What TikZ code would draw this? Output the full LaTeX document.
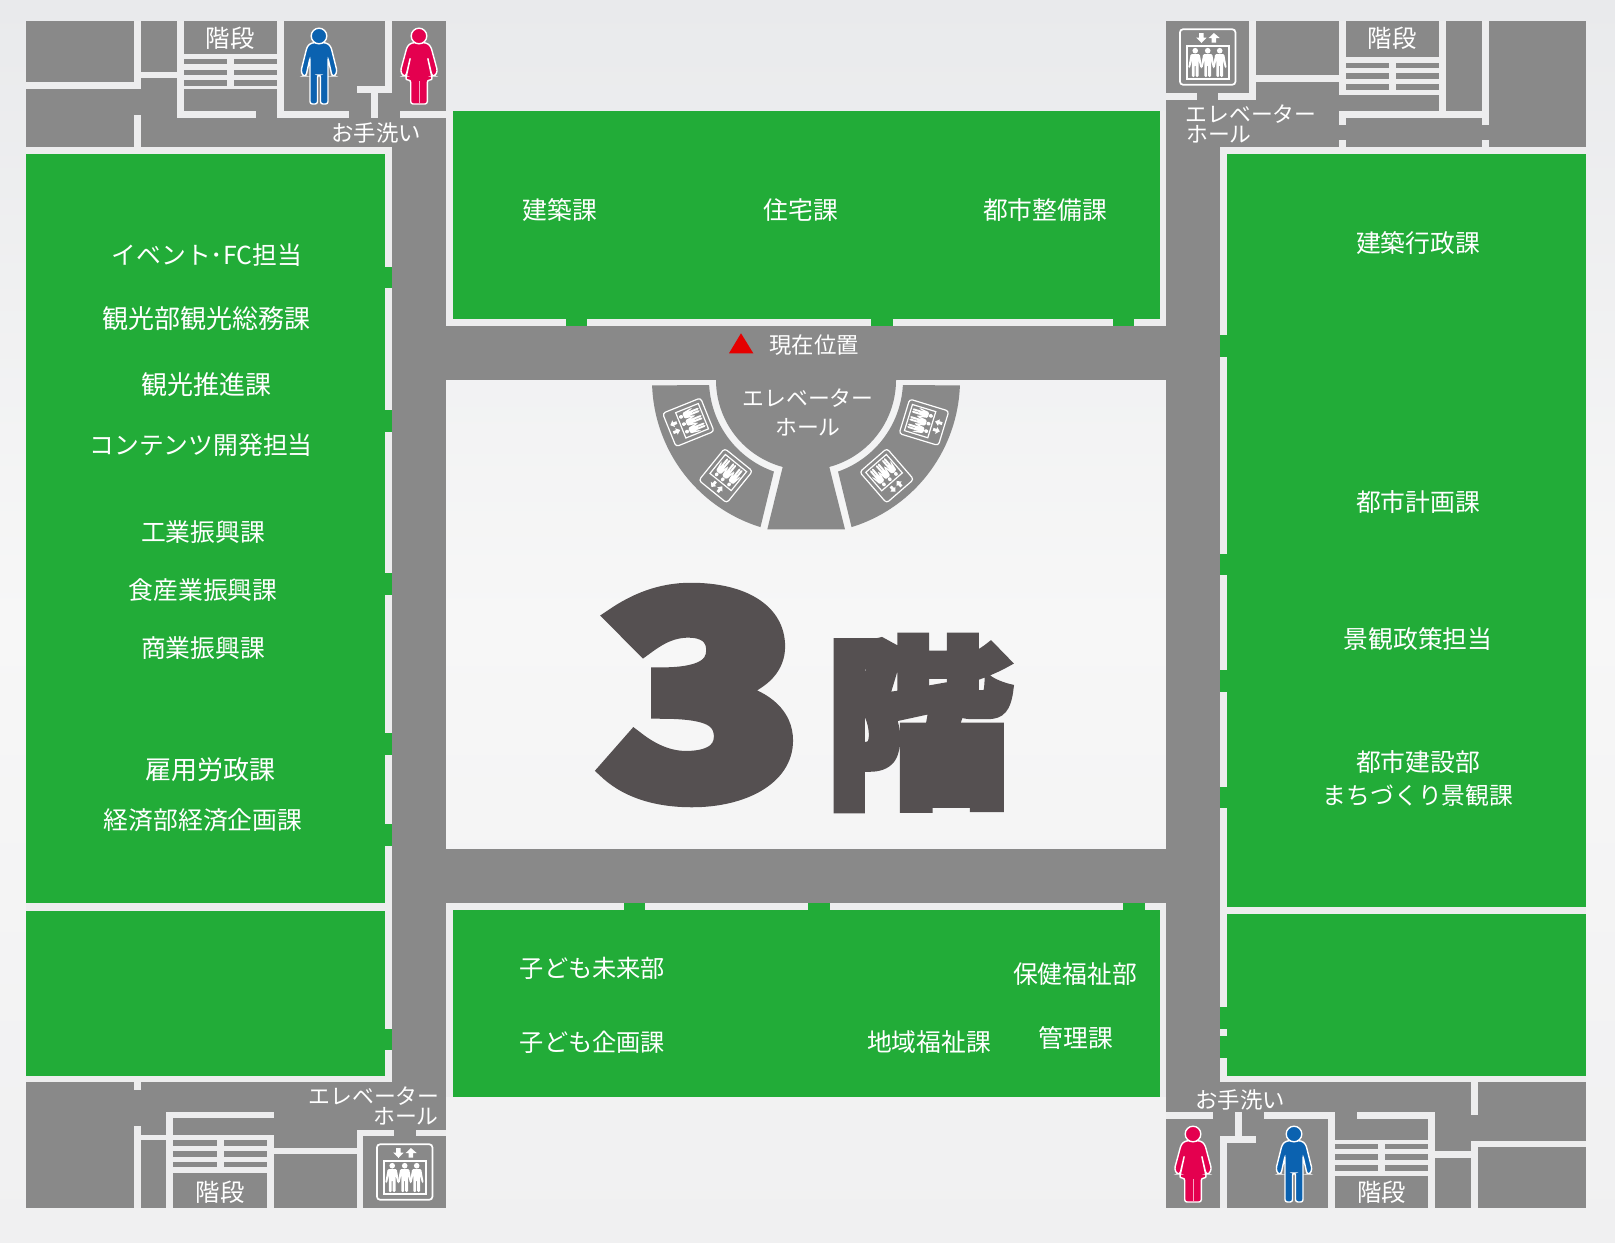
\documentclass[tikz,border=0pt]{standalone}
\usepackage{fontspec}
\usepackage{graphicx}
\setmainfont{Noto Sans CJK JP}
\newfontfamily\heavyf[BoldFeatures={FakeBold=4}]{Noto Sans CJK JP}
\newfontfamily\heavierf[BoldFeatures={FakeBold=6}]{Noto Sans CJK JP}
\definecolor{floorgray}{HTML}{898989}
\definecolor{wallc}{HTML}{EDEDEE}
\definecolor{roomg}{HTML}{22AC38}
\definecolor{malec}{HTML}{0B62B0}
\definecolor{femalec}{HTML}{E4004F}
\definecolor{bigc}{HTML}{555051}
\definecolor{bgtop}{HTML}{E9EAEC}
\definecolor{bgmid}{HTML}{F7F7F7}
\definecolor{bgbot}{HTML}{F0F0F1}
\tikzset{
  floor/.style={fill=floorgray},
  wall/.style={fill=wallc},
  room/.style={fill=roomg},
  lab/.style={text=white,inner sep=0pt,anchor=center},
  roomlab/.style={lab,font=\fontsize{12.4}{14}\selectfont},
  widelab/.style={lab,font=\fontsize{13}{14}\selectfont},
  narrowlab/.style={lab,font=\fontsize{12.1}{14}\selectfont},
  smalllab/.style={lab,font=\fontsize{11.2}{12}\selectfont},
  elevlab/.style={lab,font=\fontsize{10.9}{12}\selectfont},
}
\newcommand\maleicon[2]{%
  \begin{scope}[shift={(#1,#2)}]
    \fill[malec,draw=white,line width=0.7pt,rounded corners=1.2pt]
      (-4,6.5)--(-9,7.5)--(-12,11)--(-18,35)--(-16,40)--(-13,40)--(-9,22)--(-9,68)--(-1.5,68)--(-1.5,39)--(1.5,39)--(1.5,68)--(9,68)--(9,22)--(13,40)--(16,40)--(18,35)--(12,11)--(9,7.5)--(4,6.5)--cycle;
    \fill[malec,draw=white,line width=0.7pt] (0,0) circle[radius=7.8];
  \end{scope}}
\newcommand\femaleicon[2]{%
  \begin{scope}[shift={(#1,#2)}]
    \fill[femalec,draw=white,line width=0.7pt,rounded corners=1.2pt]
      (-4,6.5)--(-9,7.5)--(-12,11)--(-18.5,35)--(-16,40)--(-13,40)--(-8.5,21)--(-13.5,44)--(-8.3,44)--(-8.3,68)--(8.3,68)--(8.3,44)--(13.5,44)--(8.5,21)--(13,40)--(16,40)--(18.5,35)--(12,11)--(9,7.5)--(4,6.5)--cycle;
    \draw[white!65!femalec,line width=0.5pt] (0,45)--(0,67);
    \fill[femalec,draw=white,line width=0.7pt] (0,0) circle[radius=7.8];
  \end{scope}}
\newcommand\oneperson[1]{%
  \fill[white] (#1,-6.3) circle[radius=2.8];
  \fill[white,rounded corners=0.6pt] (#1-4.5,-3)--(#1+4.5,-3)--(#1+7,11)--(#1+5.2,11)--(#1+3.4,3)--(#1+3.4,20)--(#1+0.5,20)--(#1+0.5,8)--(#1-0.5,8)--(#1-0.5,20)--(#1-3.4,20)--(#1-3.4,3)--(#1-5.2,11)--(#1-7,11)--cycle;}
\newcommand\elevicon[6]{%
  \begin{scope}[shift={(#1,#2)},rotate=#3,xscale=#4,yscale=#5]
    \draw[white,line width=#6,rounded corners=1.5pt] (-27.7,-27.7) rectangle (27.7,27.7);
    \draw[white,line width=#6] (-21,-11) rectangle (21,22);
    \fill[white] (-8.5,-24)--(-4,-24)--(-4,-19.5)--(-1,-19.5)--(-6.2,-14)--(-11.5,-19.5)--(-8.5,-19.5)--cycle;
    \fill[white] (4,-14.5)--(8.5,-14.5)--(8.5,-19)--(12,-19)--(6.2,-24)--(1,-19)--(4,-19)--cycle;
    \oneperson{-12.5}\oneperson{0}\oneperson{12}
  \end{scope}}
\begin{document}
\begin{tikzpicture}[x=0.5pt,y=-0.5pt]
\useasboundingbox (0,0) rectangle (1615,1242);
\shade[top color=bgtop,bottom color=bgbot,middle color=bgmid] (0,0) rectangle (1615,1242);
% floor blocks and corridors
\foreach \a/\b/\c/\d in {26/21/446/147, 1166/21/1586/147, 26/1082/446/1208, 1166/1082/1586/1208,
   392/147/446/1082, 1166/147/1220/1082, 446/326/1166/380, 446/849/1166/903}
  \fill[floor] (\a,\b) rectangle (\c,\d);
% rooms
\foreach \a/\b/\c/\d in {26/154/385/903, 26/911/385/1076, 453/111/1160/319, 453/910/1160/1097,
   1227/154/1586/907, 1227/914/1586/1076}
  \fill[room] (\a,\b) rectangle (\c,\d);
% walls
\foreach \a/\b/\c/\d in {
  26/147/392/154, 385/147/392/1082, 26/1076/392/1082, 26/903/385/911,
  446/319/1166/326, 1160/111/1166/326, 446/111/453/326, 446/903/1166/910, 446/903/453/1097, 1160/903/1166/1097,
  1220/147/1586/154, 1220/147/1227/1082, 1220/1076/1586/1082, 1227/907/1586/914,
  134/21/141/89, 26/82/141/89, 141/72/177/78, 177/21/184/118, 177/111/256/118, 184/53.5/277/89, 277/21/284/118, 277/111/349/118,
  385/21/392/92.5, 357/86/392/92.5, 371/92/378/118, 399.5/111/446/118, 134/115/141/147,
  1249/21/1256/100, 1166/93/1196.7/100, 1218/93/1256/100, 1256/75/1339/82, 1339/21/1346/95, 1346/57/1439/95,
  1439/21/1446/118, 1339/111/1489/118, 1482/21/1489/125, 1482/140/1489/147, 1339/111/1346/125, 1339/140/1346/147,
  134/1082/141/1090, 134/1126/141/1208, 141/1135/166/1140, 166/1111.5/173/1208, 166/1111.5/274/1118, 166/1134.5/274/1172.5,
  267/1134.5/274/1208, 274/1148/357/1154, 357/1129.5/363/1208, 357/1129.5/394/1136, 415.5/1129.5/446/1136,
  1166/1111.7/1213/1118.5, 1263.5/1111.7/1335/1118.5, 1328/1111.7/1335/1208, 1220/1136/1227/1208, 1220/1136/1256/1143, 1235/1111.7/1242/1136,
  1357/1111.7/1435/1118.5, 1428/1111.7/1435/1208, 1335/1140/1428/1176, 1435/1151/1471/1158, 1471/1140.5/1478/1208, 1471/1140.5/1586/1147, 1471/1082/1478/1114.5}
  \fill[wall] (\a,\b) rectangle (\c,\d);
% stair treads
\foreach \a/\b/\c/\d in {
  184/59/227/64.3, 234/59/277/64.3, 184/69.5/227/75, 234/69.5/277/75, 184/80/227/86, 234/80/277/86,
  1346/62.5/1389/68, 1396/62.5/1439/68, 1346/73/1389/79, 1396/73/1439/79, 1346/84/1389/89.5, 1396/84/1439/89.5,
  173/1140/217/1145.5, 223.5/1140/267/1145.5, 173/1151/217/1156.5, 223.5/1151/267/1156.5, 173/1161.5/217/1167, 223.5/1161.5/267/1167,
  1335/1143.5/1378/1149, 1385/1143.5/1428/1149, 1335/1154/1378/1160, 1385/1154/1428/1160, 1335/1165/1378/1170.5, 1385/1165/1428/1170.5}
  \fill[floor] (\a,\b) rectangle (\c,\d);
% doors
\foreach \a/\b/\c/\d in {
  385/267/392/288, 385/410/392/432, 385/573/392/595, 385/733/392/755, 385/824/392/846, 385/1029/392/1050,
  1220/335/1227/357, 1220/554/1227/575, 1220/670/1227/692, 1220/787/1227/808, 1220/1007/1227/1029, 1220/1036/1227/1058,
  566/319/587/326, 871/319/893/326, 1113/319/1134/326,
  624/903/645/910, 808/903/830/910, 1123/903/1145/910}
  \fill[room] (\a,\b) rectangle (\c,\d);
% round elevator hall
\fill[floor] plot[domain=180:105,samples=50] ({806+90*cos(\x)},{380+90*sin(\x)}) -- (767.3,529.3) -- (845,529.3) -- plot[domain=75:0,samples=50] ({806+90*cos(\x)},{380+90*sin(\x)}) -- cycle;
\fill[floor] plot[domain=178:107.2,samples=50] ({806+154*cos(\x)},{380+154*sin(\x)}) -- plot[domain=109.3:177,samples=50] ({806+97*cos(\x)},{380+97*sin(\x)}) -- cycle;
\fill[floor] plot[domain=2:72.8,samples=50] ({806+154*cos(\x)},{380+154*sin(\x)}) -- plot[domain=70.7:3,samples=50] ({806+97*cos(\x)},{380+97*sin(\x)}) -- cycle;
% icons
\maleicon{319}{36}
\femaleicon{419}{36}
\femaleicon{1193}{1134}
\maleicon{1294}{1134}
\elevicon{1207.7}{57}{0}{1}{1}{0.85pt}
\elevicon{404.7}{1172}{0}{1}{1}{0.85pt}
\elevicon{688.3}{422.3}{112}{0.65}{0.74}{0.6pt}
\elevicon{725.7}{475.7}{141}{0.65}{0.74}{0.6pt}
\elevicon{924}{422.3}{-107}{0.65}{0.74}{0.6pt}
\elevicon{886.7}{475.7}{-139}{0.65}{0.74}{0.6pt}
% current position marker
\fill[red!90!black] (741,333.3)--(753.3,353.3)--(729,353.3)--cycle;
% big floor label
\node[text=bigc,inner sep=0pt,anchor=center] (floornum) at (700.5,695) {\resizebox{100.7pt}{102pt}{\heavierf\bfseries 3}};
\node[text=bigc,inner sep=0pt,anchor=center] (floorkai) at (918.5,723) {\resizebox{94pt}{77.7pt}{\heavyf\bfseries 階}};
% room labels
\node[roomlab] (t1) at (560,210) {建築課};
\node[roomlab] (t2) at (801,210) {住宅課};
\node[roomlab] (t3) at (1045,210) {都市整備課};
\node[roomlab] (l1) at (207,255) {イベント･FC担当};
\node[widelab] (l2) at (206,319) {観光部観光総務課};
\node[widelab] (l3) at (206,385) {観光推進課};
\node[roomlab] (l4) at (201,445) {コンテンツ開発担当};
\node[roomlab] (l5) at (203,532) {工業振興課};
\node[roomlab] (l6) at (203,590) {食産業振興課};
\node[roomlab] (l7) at (203,648) {商業振興課};
\node[widelab] (l8) at (210.5,770) {雇用労政課};
\node[roomlab] (l9) at (203,820) {経済部経済企画課};
\node[roomlab] (r1) at (1418,243) {建築行政課};
\node[roomlab] (r2) at (1418,502) {都市計画課};
\node[roomlab] (r3) at (1418,639) {景観政策担当};
\node[roomlab] (r4) at (1418,762) {都市建設部};
\node[lab,font=\fontsize{11.9}{14}\selectfont] (r5) at (1418,795) {まちづくり景観課};
\node[narrowlab] (b1) at (592.5,968) {子ども未来部};
\node[narrowlab] (b2) at (592.5,1042) {子ども企画課};
\node[roomlab] (b3) at (929,1042) {地域福祉課};
\node[roomlab] (b4) at (1075,974) {保健福祉部};
\node[roomlab] (b5) at (1076,1038) {管理課};
% small labels
\node[smalllab] (m1) at (814,345) {現在位置};
\node[elevlab] (m2) at (808,398.5) {エレベーター};
\node[elevlab] (m3) at (808,427) {ホール};
\node[smalllab] (w1) at (376,133) {お手洗い};
\node[smalllab] (w2) at (1240,1100) {お手洗い};
\node[lab,font=\fontsize{12.2}{14}\selectfont] (s1) at (230,38.5) {階段};
\node[lab,font=\fontsize{12.2}{14}\selectfont] (s2) at (1392,38.5) {階段};
\node[lab,font=\fontsize{12.2}{14}\selectfont] (s3) at (220,1192.7) {階段};
\node[lab,font=\fontsize{12.2}{14}\selectfont] (s4) at (1381.7,1192.7) {階段};
\node[elevlab] (e1) at (1251,114) {エレベーター};
\node[elevlab] (e2) at (1219,134) {ホール};
\node[elevlab] (e3) at (374,1096) {エレベーター};
\node[elevlab] (e4) at (406,1116) {ホール};
\end{tikzpicture}
\end{document}
